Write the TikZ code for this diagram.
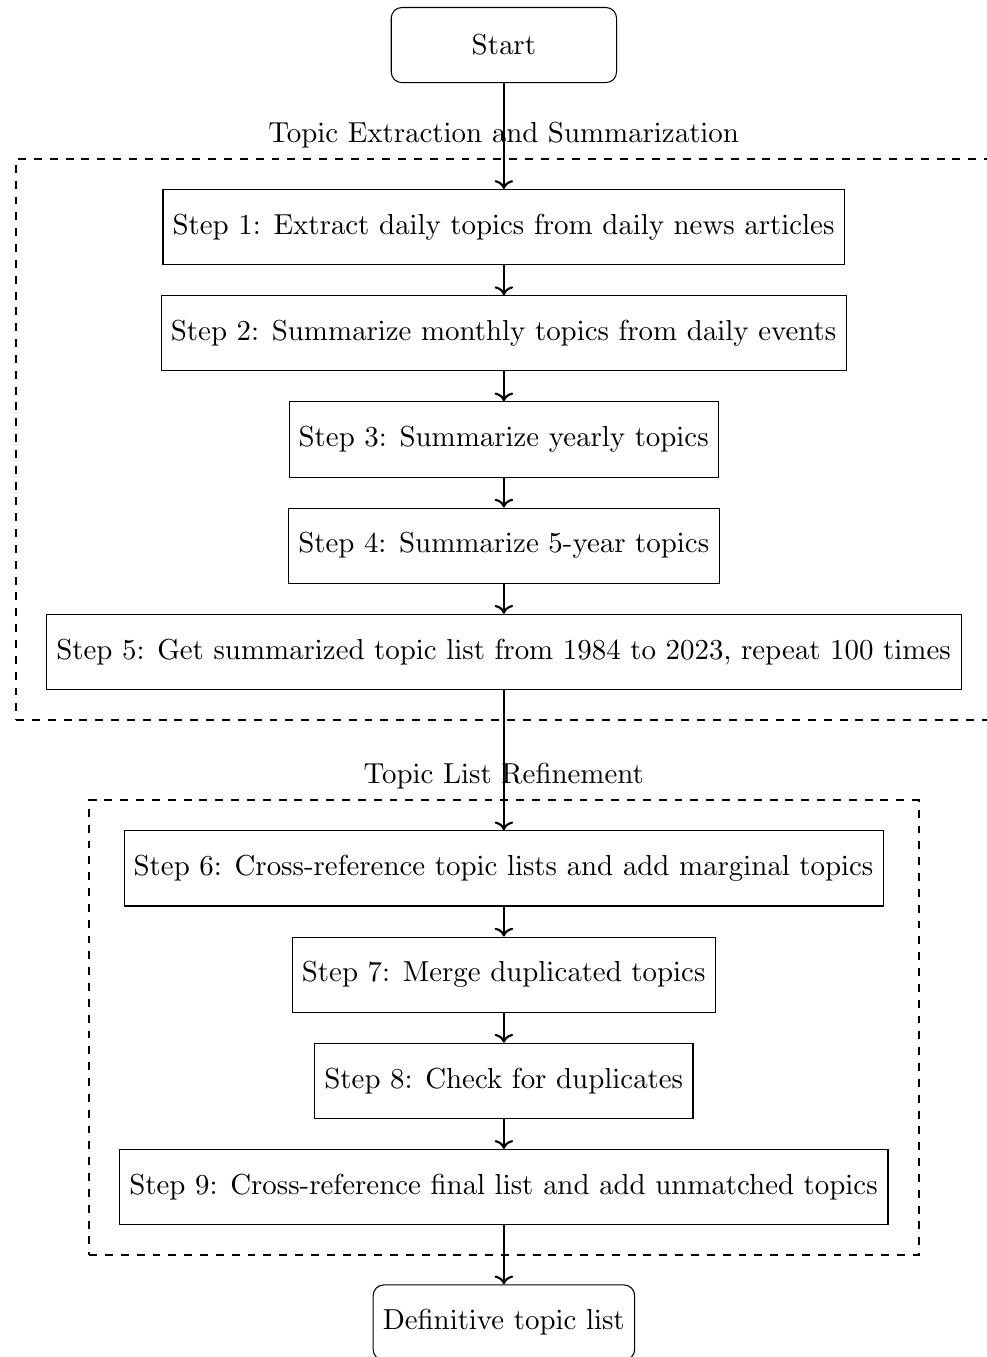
\documentclass[tikz,border=0pt,11pt]{standalone}
\usepackage[OT1]{fontenc}
\usepackage{tikz}
\usetikzlibrary{arrows.meta,positioning,fit}
\tikzset{
  endcard/.style={
    draw, rounded corners, line width=0.4pt,
    minimum width=3cm, minimum height=1cm, align=center
  },
  stepcard/.style={
    draw, line width=0.4pt,
    minimum height=1cm, align=center
  },
  groupframe/.style={draw, dashed, thick, inner sep=0.4cm},
  flowarrow/.style={-{To}, thick}
}
% step prefix with the wider space after the colon
\newcommand{\stepno}[1]{Step #1:\hspace{0.44em}}

\begin{document}
\begin{tikzpicture}
  \useasboundingbox (-6.71,0.6) rectangle (6.42,-17.47);
  % start and first group
  \node[endcard] (start) {Start};
  \node[stepcard, below=1.41cm of start] (s1) {\stepno{1}Extract daily topics from daily news articles};
  \node[stepcard, below=0.4cm of s1] (s2) {\stepno{2}Summarize monthly topics from daily events};
  \node[stepcard, below=0.4cm of s2] (s3) {\stepno{3}Summarize yearly topics};
  \node[stepcard, below=0.4cm of s3] (s4) {\stepno{4}Summarize 5-year topics};
  \node[stepcard, below=0.4cm of s4] (s5) {\stepno{5}Get summarized topic list from 1984 to 2023, repeat 100 times};
  % second group
  \node[stepcard, below=1.87cm of s5] (s6) {\stepno{6}Cross-reference topic lists and add marginal topics};
  \node[stepcard, below=0.4cm of s6] (s7) {\stepno{7}Merge duplicated topics};
  \node[stepcard, below=0.4cm of s7] (s8) {\stepno{8}Check for duplicates};
  \node[stepcard, below=0.4cm of s8] (s9) {\stepno{9}Cross-reference final list and add unmatched topics};
  \node[endcard, below=0.79cm of s9] (final) {Definitive topic list};

  % dashed group frames
  \node[groupframe, fit=(s1)(s2)(s3)(s4)(s5),
        label={above:Topic Extraction and Summarization}] (extract) {};
  \node[groupframe, fit=(s6)(s7)(s8)(s9),
        label={above:Topic List Refinement}] (refine) {};

  % arrows
  \draw[flowarrow] (start) -- (s1);
  \draw[flowarrow] (s1) -- (s2);
  \draw[flowarrow] (s2) -- (s3);
  \draw[flowarrow] (s3) -- (s4);
  \draw[flowarrow] (s4) -- (s5);
  \draw[flowarrow] (s5) -- (s6);
  \draw[flowarrow] (s6) -- (s7);
  \draw[flowarrow] (s7) -- (s8);
  \draw[flowarrow] (s8) -- (s9);
  \draw[flowarrow] (s9) -- (final);
\end{tikzpicture}
\end{document}
